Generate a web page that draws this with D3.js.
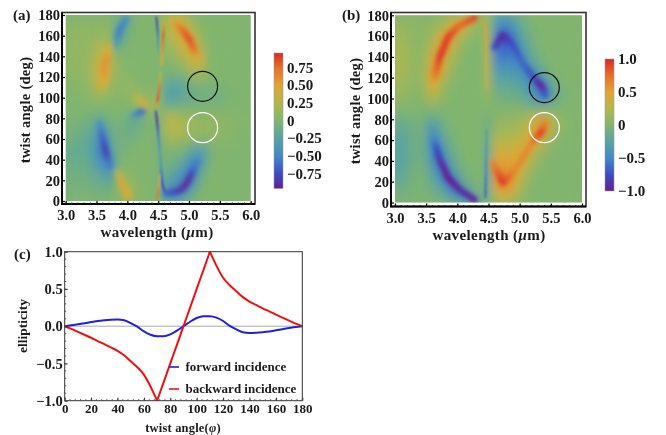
<!DOCTYPE html>
<html>
<head>
<meta charset="utf-8">
<script src="https://cdnjs.cloudflare.com/ajax/libs/d3/7.8.5/d3.min.js"></script>
<style>
html, body { margin: 0; padding: 0; background: #fff; }
svg { display: block; filter: blur(0.35px); }
text { font-family: "Liberation Serif", serif; font-weight: bold; fill: #1a1a1a; }
</style>
</head>
<body>
<div id="chart"></div>
<script>
var width = 666, height = 435;

// heat map samples, value x 100
var wavelengths = d3.range(31).map(function(i){ return 3 + i/10; });
var angles = [180,170,160,150,140,130,120,110,100,90,80,70,60,50,40,30,20,10,0];

var gridA = [
[0,0,0,0,0,0,0,0,-5,-10,-10,-3,0,0,0,0,15,25,30,20,8,3,0,0,0,0,0,0,0,0,0],
[5,5,5,5,5,5,5,5,-8,-25,-15,-3,0,0,0,0,20,30,40,45,25,10,3,0,0,0,0,0,0,0,0],
[8,8,8,8,8,8,10,10,-12,-25,-8,-2,0,0,0,0,15,25,35,50,50,25,8,2,0,0,0,0,0,0,0],
[8,8,8,8,10,18,25,22,-12,-10,-3,0,0,0,0,0,8,15,25,35,48,42,18,5,0,0,0,0,0,0,0],
[8,8,8,8,12,25,38,32,8,2,0,0,0,0,0,0,3,8,12,22,35,45,28,8,0,0,0,0,0,0,0],
[8,8,8,10,15,30,45,38,12,5,3,0,0,0,0,0,0,0,3,10,20,32,28,8,0,0,0,0,0,0,0],
[5,5,5,8,15,32,45,30,10,5,5,3,0,0,0,0,-5,-10,-10,-8,0,8,12,4,0,0,0,0,0,0,0],
[3,3,3,5,10,22,25,12,8,5,8,10,5,0,0,5,-15,-28,-25,-18,-12,-8,-5,-5,-5,-5,-3,-2,0,0,0],
[0,0,0,2,5,10,10,5,3,3,5,12,18,12,3,15,-20,-32,-28,-20,-15,-12,-10,-10,-10,-8,-5,-3,-2,0,0],
[0,0,0,0,0,0,0,0,0,0,0,5,10,15,20,5,0,-3,-3,-3,-3,-3,-2,-2,-2,-2,-1,0,0,0,0],
[-3,-3,-3,-5,-8,-15,-15,-5,-2,-5,-10,-22,-22,-8,0,-10,18,28,25,15,12,10,8,8,8,6,5,3,2,0,0],
[-5,-5,-8,-10,-15,-22,-30,-18,-5,-8,-12,-12,-5,-2,0,-10,18,30,28,20,14,12,10,10,10,7,5,3,2,0,0],
[-10,-10,-12,-15,-22,-35,-45,-30,-8,-8,-10,-6,-2,0,0,-15,10,15,15,10,8,6,5,5,5,4,3,2,0,0,0],
[-15,-15,-15,-18,-25,-40,-58,-42,-12,-5,-5,-2,0,0,0,-10,-5,0,0,-3,-12,-25,-28,-15,-2,0,0,0,0,0,0],
[-15,-15,-15,-15,-22,-35,-50,-45,-18,-3,0,0,0,0,0,-5,-5,-5,-10,-18,-32,-48,-40,-12,-2,0,0,0,0,0,0],
[-10,-10,-10,-10,-15,-22,-35,-42,-20,5,3,0,0,0,0,-5,-10,-12,-22,-35,-52,-48,-20,-5,0,0,0,0,0,0,0],
[-8,-8,-8,-8,-10,-12,-18,-22,-8,15,12,3,0,0,0,-5,-25,-28,-38,-52,-55,-32,-10,-2,0,0,0,0,0,0,0],
[-5,-5,-5,-5,-5,-8,-10,-8,0,12,25,12,2,0,0,0,-30,-42,-52,-48,-32,-15,-3,0,0,0,0,0,0,0,0],
[-2,-2,-2,-2,-2,-3,-3,-3,0,5,12,10,2,0,0,0,-20,-28,-28,-18,-8,-3,0,0,0,0,0,0,0,0,0]
];

var gridB = [
[3,3,3,3,3,3,3,3,5,8,15,25,30,30,10,10,-15,-25,-25,-15,-8,-3,0,0,0,0,0,0,0,0,0],
[10,10,8,5,5,5,8,15,25,40,50,45,25,8,5,20,-30,-50,-50,-35,-20,-8,-3,0,0,0,0,0,0,0,0],
[15,15,12,8,5,8,15,35,55,60,35,15,8,3,3,25,-45,-70,-70,-55,-30,-15,-5,-2,0,0,0,0,0,0,0],
[20,18,15,8,5,10,30,50,60,40,15,8,3,0,0,25,-55,-65,-70,-60,-40,-25,-10,-3,0,0,0,0,0,0,0],
[22,20,15,8,8,15,45,60,45,22,10,3,0,0,0,25,-50,-55,-55,-55,-50,-35,-18,-8,-3,0,0,0,0,0,0],
[22,20,15,8,8,20,55,55,30,15,5,2,0,0,0,25,-35,-40,-40,-42,-45,-45,-35,-18,-8,-3,0,0,0,0,0],
[20,18,12,8,8,25,55,40,18,8,3,0,0,0,0,25,-25,-25,-25,-28,-35,-42,-50,-45,-25,-10,-3,0,0,0,0],
[15,12,10,5,5,20,40,22,10,3,0,0,0,0,0,20,-12,-15,-15,-18,-22,-30,-42,-62,-65,-32,-12,-5,0,0,0],
[8,8,5,3,3,10,22,12,5,0,0,0,0,0,0,10,-5,-8,-8,-10,-12,-18,-28,-42,-48,-28,-12,-5,-2,0,0],
[0,0,0,0,0,0,3,0,0,0,0,0,0,0,0,0,0,0,0,0,0,-2,-3,-3,-3,-3,-2,0,0,0,0],
[-10,-10,-8,-5,-5,-12,-20,-12,-5,0,0,0,0,0,0,-10,5,8,8,10,12,18,28,42,45,28,12,5,2,0,0],
[-18,-18,-15,-8,-8,-18,-35,-25,-10,-3,0,0,0,0,0,-15,12,15,15,18,22,30,42,60,65,32,12,5,0,0,0],
[-22,-22,-18,-10,-8,-20,-50,-40,-18,-8,-3,0,0,0,0,-15,22,25,25,28,35,42,50,45,25,10,3,0,0,0,0],
[-28,-25,-18,-10,-10,-20,-50,-55,-30,-15,-5,0,0,0,0,-20,35,40,40,42,45,48,35,18,8,3,0,0,0,0,0],
[-28,-25,-18,-10,-8,-15,-40,-60,-48,-22,-10,-3,0,0,0,-25,50,52,50,50,50,35,18,8,3,0,0,0,0,0,0],
[-25,-22,-15,-8,-5,-10,-28,-50,-60,-40,-18,-8,-3,0,0,-25,55,62,60,55,40,22,10,3,0,0,0,0,0,0,0],
[-18,-15,-10,-5,-3,-8,-15,-30,-55,-62,-40,-15,-8,-3,0,-25,50,68,70,50,28,12,5,0,0,0,0,0,0,0,0],
[-10,-8,-8,-3,-3,-5,-8,-15,-25,-50,-62,-45,-25,-8,-3,-20,30,50,50,35,18,8,3,0,0,0,0,0,0,0,0],
[-3,-3,-3,-3,-3,-3,-3,-3,-5,-10,-18,-28,-32,-28,-8,-8,12,20,20,12,5,2,0,0,0,0,0,0,0,0,0]
];

// strong narrow bands: wavelength, angle, value
var bandsA = [
[[3.58,110,.35],[3.62,125,.55],[3.66,140,.6],[3.7,150,.35]],
[[3.55,75,-.4],[3.6,60,-.65],[3.66,45,-.85],[3.72,33,-.5]],
[[3.82,150,-.2],[3.87,165,-.55],[3.98,176,-.5]],
[[3.85,28,.25],[3.92,15,.5],[4.02,5,.5]],
[[4.15,100,.2],[4.3,93,.45]],
[[4.1,83,-.3],[4.25,87,-.65]],
[[4.77,173,.45],[4.9,165,.75],[5.01,156,.9],[5.1,144,.75],[5.18,136,.35]],
[[4.62,7,-.6],[4.85,10,-.85],[4.95,16,-.95],[5.03,25,-.9],[5.13,38,-.5]]
];
var thinA = [
[[4.47,178,-.8],[4.49,165,-.7],[4.5,150,-.3],[4.5,135,.1]],
[[4.6,172,.5],[4.58,160,.85],[4.57,145,.6],[4.55,130,.3]],
[[4.54,125,.3],[4.52,110,.7],[4.49,98,.9],[4.47,92,.5]],
[[4.46,87,-.7],[4.48,78,-.95],[4.5,65,-.6],[4.53,45,-.3],[4.55,30,-.5],[4.57,15,-.85],[4.62,8,-.7]],
[[4.48,2,.7],[4.5,10,.7],[4.52,25,.3]]
];
var bandsB = [
[[4.28,177.7,.9],[4.01,169,.75],[3.85,159,.9],[3.72,140,.95],[3.64,121,.7],[3.61,108,.3]],
[[4.28,2.5,-.95],[4.04,12,-.9],[3.85,24,-1],[3.72,41,-.9],[3.64,57,-.65],[3.6,70,-.3]],
[[4.6,149,-.7],[4.73,161,-.95],[4.88,152,-.75],[5.05,134,-.62],[5.21,121,-.7],[5.36,111,-1],[5.41,103,-.65]],
[[4.57,38,.6],[4.73,19,.95],[4.93,32,.62],[5.21,58,.62],[5.36,69,.95],[5.41,76,.65]]
];
var thinB = [
[[4.44,176,.55],[4.46,150,.5],[4.47,110,.3]],
[[4.47,70,-.25],[4.46,40,-.45],[4.45,5,-.7]]
];

// marked circles: wavelength, angle
var circlesA = [[5.22,111,"#111"],[5.22,71,"#fff"]];
var circlesB = [[5.395,110.5,"#111"],[5.395,72,"#fff"]];

var colorStops = [-1,-.75,-.5,-.25,0,.25,.5,.75,1];
var colorValues = ["#6a1d92","#3b4cc4","#4488c6","#57a3a4","#81b56e","#b3b84c","#e0a535","#e6702a","#d92b25"];

var ticksA = [.75,.5,.25,0,-.25,-.5,-.75];
var ticksB = [1,.5,0,-.5,-1];

// ellipticity curves
var phi = d3.range(0,181,5);
var forward = [0,.012,.025,.04,.055,.07,.08,.087,.09,.08,.042,-.005,-.07,-.115,-.135,-.135,-.11,-.06,0,.06,.11,.135,.135,.115,.07,.005,-.042,-.08,-.09,-.087,-.08,-.07,-.055,-.04,-.025,-.012,0];
var backward = [0,-.035,-.075,-.115,-.155,-.2,-.24,-.285,-.33,-.39,-.47,-.55,-.65,-.81,-1,-.75,-.5,-.25,0,.25,.5,.75,1,.81,.65,.55,.47,.39,.33,.285,.24,.2,.155,.115,.075,.035,0];

var color = d3.scaleLinear().domain(colorStops).range(colorValues).clamp(true);

var svg = d3.select("#chart").append("svg")
  .attr("width", width)
  .attr("height", height);

var defs = svg.append("defs");
function blur(id, dev) {
  defs.append("filter").attr("id",id).attr("filterUnits","userSpaceOnUse")
    .attr("x",0).attr("y",0).attr("width",width).attr("height",height)
    .append("feGaussianBlur").attr("stdDeviation",dev);
}
blur("blurGrid","4 6");
blur("blurBand",2.8);
blur("blurCore",1.4);
blur("blurThin",0.8);

function text(x, y, s, size, anchor) {
  return svg.append("text")
    .attr("x", x).attr("y", y)
    .attr("font-size", size)
    .attr("text-anchor", anchor || "start")
    .text(s);
}

function wavelengthLabel(x, y) {
  var t = text(x, y, "wavelength (", 15, "middle").attr("letter-spacing",.4);
  t.append("tspan").attr("font-style","italic").text("\u03bc");
  t.append("tspan").text("m)");
}

function heatMap(id, box, frame, grid, bands, thin, circles, core) {
  var x = d3.scaleLinear().domain([3,6]).range([box.x0, box.x1]);
  var y = d3.scaleLinear().domain([0,180]).range([box.y1, box.y0]);

  svg.append("clipPath").attr("id", "clip"+id).append("rect")
    .attr("x", box.x0).attr("y", box.y0)
    .attr("width", box.x1-box.x0).attr("height", box.y1-box.y0);

  var g = svg.append("g").attr("clip-path", "url(#clip"+id+")");
  g.append("rect")
    .attr("x", box.x0).attr("y", box.y0)
    .attr("width", box.x1-box.x0).attr("height", box.y1-box.y0)
    .attr("fill", color(0));

  var cells = [];
  grid.forEach(function(row, j) {
    row.forEach(function(v, i) {
      cells.push({w: wavelengths[i], a: angles[j], v: v/100});
    });
  });
  g.append("g").attr("filter","url(#blurGrid)")
    .selectAll("rect").data(cells).enter().append("rect")
    .attr("x", function(d){ return x(d.w-.05); })
    .attr("y", function(d){ return y(d.a+5); })
    .attr("width", x(3.1)-x(3.0)+.5)
    .attr("height", y(0)-y(10)+.5)
    .attr("fill", function(d){ return color(d.v); });

  function strokes(list, w, filter, opacity) {
    var layer = g.append("g").attr("filter", filter).attr("fill","none").attr("stroke-linecap","round").attr("opacity",opacity);
    list.forEach(function(band) {
      // split each polyline so it can change colour along its length
      d3.pairs(band).forEach(function(p) {
        for (var k = 0; k < 6; k++) {
          var t0 = k/6, t1 = (k+1)/6;
          layer.append("line")
            .attr("x1", x(p[0][0]+(p[1][0]-p[0][0])*t0))
            .attr("y1", y(p[0][1]+(p[1][1]-p[0][1])*t0))
            .attr("x2", x(p[0][0]+(p[1][0]-p[0][0])*t1))
            .attr("y2", y(p[0][1]+(p[1][1]-p[0][1])*t1))
            .attr("stroke", color(p[0][2]+(p[1][2]-p[0][2])*(t0+t1)/2))
            .attr("stroke-width", w);
        }
      });
    });
  }
  strokes(bands, 6, "url(#blurBand)", 1);
  if (core) strokes(bands, 3, "url(#blurCore)", .6);
  strokes(thin, 1.8, "url(#blurThin)", 1);

  svg.append("g").selectAll("circle").data(circles).enter().append("circle")
    .attr("cx", function(d){ return x(d[0]); })
    .attr("cy", function(d){ return y(d[1]); })
    .attr("r", 15)
    .attr("fill","none")
    .attr("stroke", function(d){ return d[2]; })
    .attr("stroke-width", 1.2);

  // frame, heavier on the left and bottom
  svg.append("rect")
    .attr("x", frame.x0).attr("y", frame.y0)
    .attr("width", frame.x1-frame.x0).attr("height", frame.y1-frame.y0)
    .attr("fill","none").attr("stroke","#333").attr("stroke-width",1.6);
  svg.append("path")
    .attr("d", "M"+frame.x0+","+frame.y0+"V"+frame.y1+"H"+frame.x1)
    .attr("fill","none").attr("stroke","#000").attr("stroke-width",2);

  var ax = d3.axisBottom(x).tickValues(d3.range(3,6.01,.5)).tickFormat(d3.format(".1f"));
  var gx = svg.append("g").attr("transform","translate(0,"+frame.y1+")").call(ax);
  svg.append("g").attr("transform","translate(0,"+frame.y1+")")
    .selectAll("line").data(d3.range(3,6.01,.1)).enter().append("line")
    .attr("x1", function(d){ return x(d); }).attr("x2", function(d){ return x(d); })
    .attr("y1", 0).attr("y2", -1.5).attr("stroke","#222");
  gx.select(".domain").remove();
  gx.selectAll("line").attr("y2",-3).attr("stroke","#000").attr("stroke-width",1.2);
  gx.selectAll("text").attr("y",16).attr("dy",0).attr("font-size",14.5).attr("font-family",null);

  var ay = d3.axisLeft(y).tickValues(d3.range(0,181,20));
  var gy = svg.append("g").attr("transform","translate("+frame.x0+",0)").call(ay);
  gy.select(".domain").remove();
  gy.selectAll("line").attr("x2",3).attr("stroke","#000").attr("stroke-width",1.2);
  gy.selectAll("text").attr("x",-2).attr("dy","0.33em").attr("font-size",14.5).attr("font-family",null);
}

function colorBar(id, bx, by0, by1, domainMax, ticks, labelX, fmt) {
  var scale = d3.scaleLinear().domain([domainMax,-domainMax]).range([by0,by1]);
  var grad = defs.append("linearGradient").attr("id","grad"+id)
    .attr("x1",0).attr("y1",0).attr("x2",0).attr("y2",1);
  colorStops.slice().reverse().forEach(function(v) {
    grad.append("stop")
      .attr("offset", (domainMax-v)/(2*domainMax))
      .attr("stop-color", color(v));
  });
  svg.append("rect").attr("x",bx).attr("y",by0).attr("width",9).attr("height",by1-by0)
    .attr("fill","url(#grad"+id+")").attr("stroke","#999").attr("stroke-width",.5);
  ticks.forEach(function(t) {
    text(labelX, scale(t)+5, t === 0 ? "0" : d3.format(fmt)(t).replace("-","\u2212"), 15);
  });
}

// (a)
heatMap("a", {x0:65.7,x1:250.7,y0:15,y1:201}, {x0:62,x1:255,y0:12.5,y1:204}, gridA, bandsA, thinA, circlesA, false);
text(13, 20, "(a)", 15);
wavelengthLabel(157, 237);
text(0, 0, "twist angle (deg)", 14.5, "middle").attr("letter-spacing",.3)
  .attr("transform","translate(30,110) rotate(-90)");
colorBar("a", 274, 53, 188.5, 0.96, ticksA, 287, ".2f");

// (b)
heatMap("b", {x0:395,x1:582,y0:15.3,y1:202.5}, {x0:391,x1:586,y0:12.5,y1:206.5}, gridB, bandsB, thinB, circlesB, true);
text(342, 20, "(b)", 15);
wavelengthLabel(489, 240);
text(0, 0, "twist angle (deg)", 14.5, "middle").attr("letter-spacing",.3)
  .attr("transform","translate(360,111) rotate(-90)");
colorBar("b", 605, 59, 191, 1, ticksB, 618, ".1f");

// (c)
var margin = {left:64.7, right:302.3, top:251.7, bottom:400.7};
var xc = d3.scaleLinear().domain([0,180]).range([margin.left, margin.right]);
var yc = d3.scaleLinear().domain([-1,1]).range([margin.bottom, margin.top]);

svg.append("line")
  .attr("x1",xc(0)).attr("x2",xc(180)).attr("y1",yc(0)).attr("y2",yc(0))
  .attr("stroke","#aaa").attr("stroke-width",1);

var line = d3.line()
  .x(function(d){ return xc(d[0]); })
  .y(function(d){ return yc(d[1]); })
  .curve(d3.curveMonotoneX);

var forwardPts = d3.zip(phi, forward);
var backwardPts = d3.zip(phi, backward);

svg.append("path").attr("d", line(forwardPts)).attr("fill","none").attr("stroke","#2020e0").attr("stroke-width",2);
// the red curve has two sharp corners, so it is drawn in three runs
[[0,70],[70,110],[110,180]].forEach(function(r) {
  svg.append("path")
    .attr("d", line(backwardPts.filter(function(d){ return d[0] >= r[0] && d[0] <= r[1]; })))
    .attr("fill","none").attr("stroke","#ee1111").attr("stroke-width",2);
});

svg.append("rect")
  .attr("x",margin.left).attr("y",margin.top)
  .attr("width",margin.right-margin.left).attr("height",margin.bottom-margin.top)
  .attr("fill","none").attr("stroke","#333").attr("stroke-width",1);

var gxc = svg.append("g").attr("transform","translate(0,"+margin.bottom+")")
  .call(d3.axisBottom(xc).tickValues(d3.range(0,181,20)));
gxc.select(".domain").remove();
gxc.selectAll("line").attr("y2",-3).attr("stroke","#222");
gxc.selectAll("text").attr("y",12).attr("dy",0).attr("font-size",13).attr("font-family",null);

var gyc = svg.append("g").attr("transform","translate("+margin.left+",0)")
  .call(d3.axisLeft(yc).tickValues(d3.range(-1,1.01,.5)).tickFormat(function(d){ return d3.format(".1f")(d).replace("-","\u2212"); }));
gyc.select(".domain").remove();
gyc.selectAll("line").attr("x2",3).attr("stroke","#222");
gyc.selectAll("text").attr("x",-2).attr("dy","0.33em").attr("font-size",14.5).attr("font-family",null);

svg.append("g").selectAll("line").data(d3.range(0,181,4)).enter().append("line")
  .attr("x1",function(d){ return xc(d); }).attr("x2",function(d){ return xc(d); })
  .attr("y1",margin.bottom).attr("y2",margin.bottom-1.5).attr("stroke","#555");
svg.append("g").selectAll("line").data(d3.range(-1,1.01,.1)).enter().append("line")
  .attr("x1",margin.left).attr("x2",margin.left+1.5)
  .attr("y1",function(d){ return yc(d); }).attr("y2",function(d){ return yc(d); }).attr("stroke","#555");

text(14, 259, "(c)", 15);
var phiLabel = text(183, 432, "twist angle(", 12.5, "middle").attr("letter-spacing",.2);
phiLabel.append("tspan").attr("font-style","italic").text("\u03c6");
phiLabel.append("tspan").text(")");
text(0, 0, "ellipticity", 13.5, "middle")
  .attr("transform","translate(27,326) rotate(-90)");

svg.append("line").attr("x1",169).attr("x2",179).attr("y1",367).attr("y2",367).attr("stroke","#2020e0").attr("stroke-width",1.6);
svg.append("line").attr("x1",169).attr("x2",179).attr("y1",389).attr("y2",389).attr("stroke","#ee1111").attr("stroke-width",1.6);
text(185.5, 371, "forward incidence", 13);
text(185.5, 393, "backward incidence", 13);
</script>
</body>
</html>
